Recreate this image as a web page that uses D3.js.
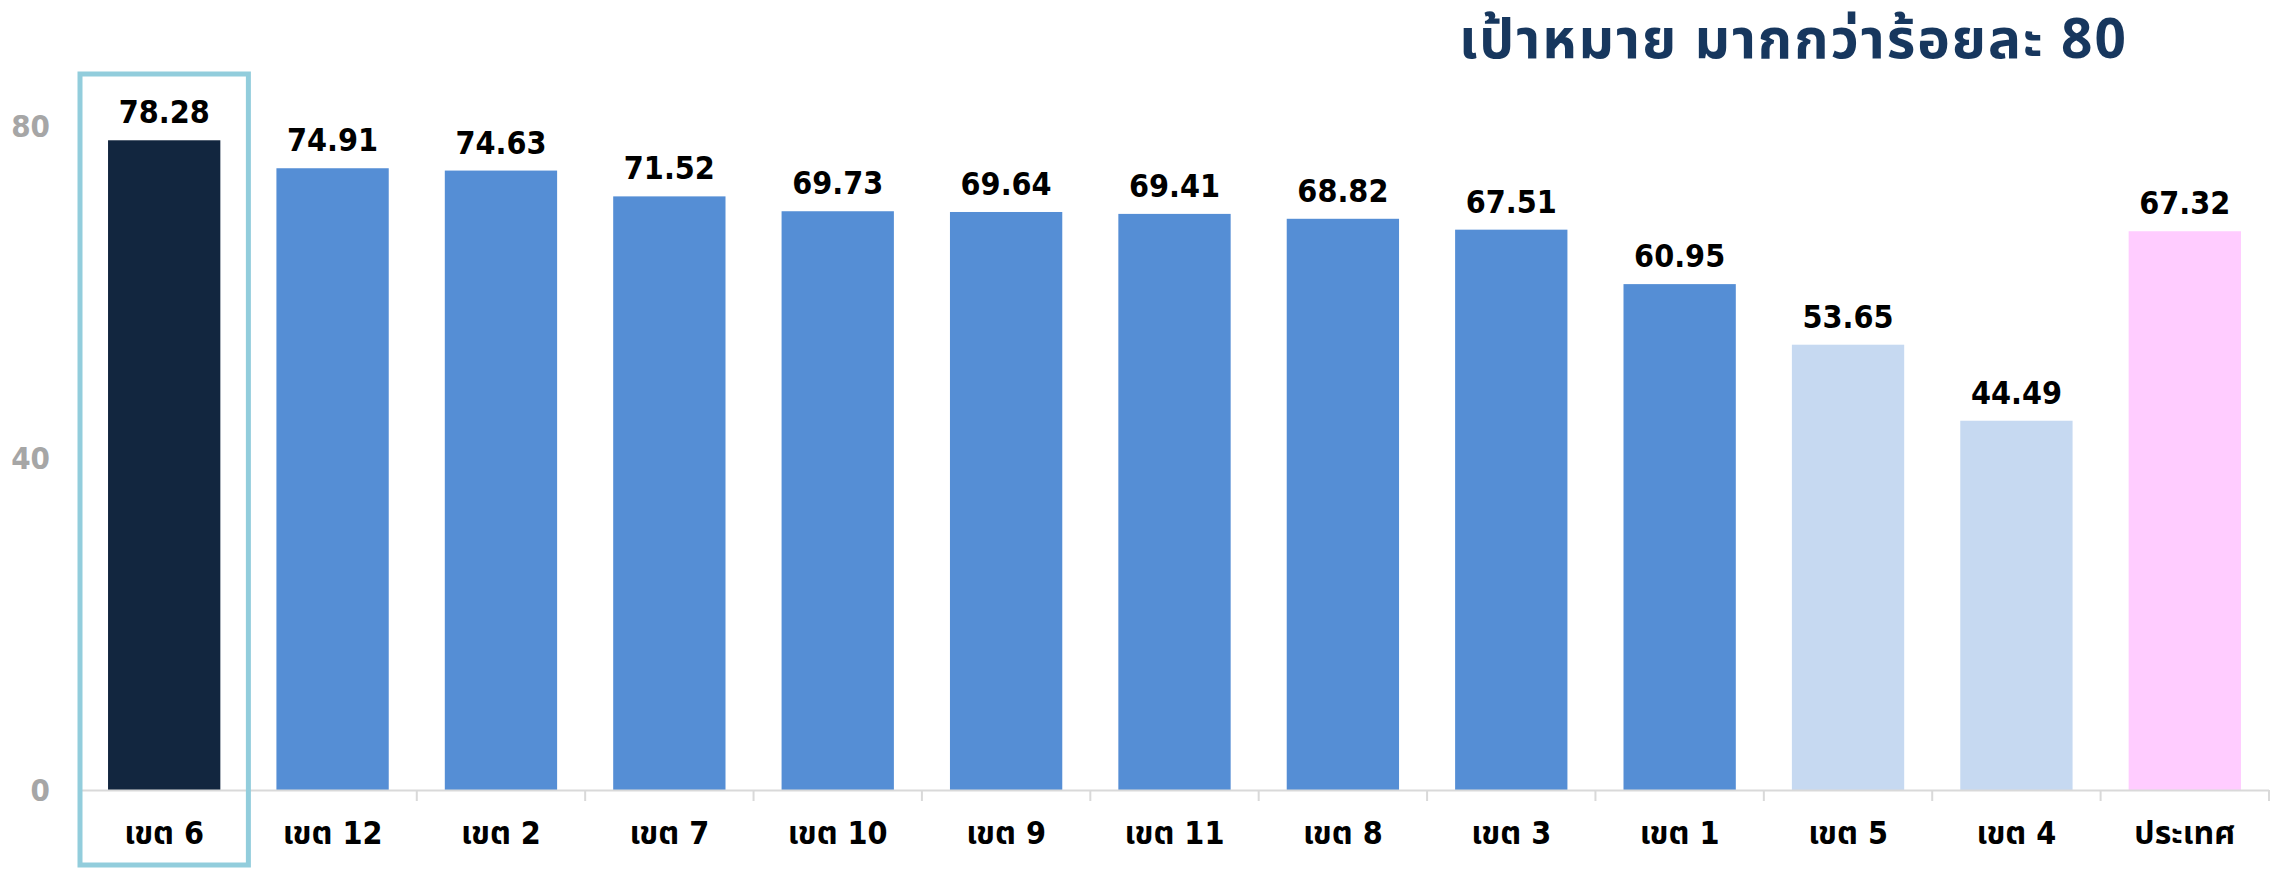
<!DOCTYPE html>
<html>
<head>
<meta charset="utf-8">
<script src="https://cdn.jsdelivr.net/npm/d3@7"></script>
<style>
  body { margin: 0; background: #fff; }
  text { font-family: "DejaVu Sans Condensed", "DejaVu Sans", "Noto Sans Thai", sans-serif; font-weight: bold; font-stretch: condensed; }
  text.title { font-family: "Noto Sans Thai", "DejaVu Sans", sans-serif; font-stretch: normal; }
</style>
</head>
<body>
<svg id="chart" width="2277" height="869"></svg>
<script>
// data
var categories = ["เขต 6","เขต 12","เขต 2","เขต 7","เขต 10","เขต 9","เขต 11","เขต 8","เขต 3","เขต 1","เขต 5","เขต 4","ประเทศ"];
var values = [78.28,74.91,74.63,71.52,69.73,69.64,69.41,68.82,67.51,60.95,53.65,44.49,67.32];
var groups = ["top","mid","mid","mid","mid","mid","mid","mid","mid","mid","low","low","country"];
var yTicks = [0,40,80];
var title = "เป้าหมาย มากกว่าร้อยละ 80";
var highlight = "เขต 6";

var colors = {top:"#12263f", mid:"#558ed5", low:"#c6d9f1", country:"#ffccff"};

var svg = d3.select("#chart");
var x = d3.scaleBand().domain(categories).range([80,2269]).paddingInner(0.333).paddingOuter(0.1665);
var y = d3.scaleLinear().domain([0,80]).range([790,126]);

var data = categories.map(function(c,i){ return {cat:c, v:values[i], g:groups[i]}; });

// bars
svg.selectAll("rect.bar").data(data).enter().append("rect")
  .attr("class","bar")
  .attr("x", function(d){ return x(d.cat); })
  .attr("y", function(d){ return y(d.v); })
  .attr("width", x.bandwidth())
  .attr("height", function(d){ return y(0)-y(d.v); })
  .attr("fill", function(d){ return colors[d.g]; });

// value labels
svg.selectAll("text.val").data(data).enter().append("text")
  .attr("class","val")
  .attr("x", function(d){ return x(d.cat)+x.bandwidth()/2; })
  .attr("y", function(d){ return y(d.v)-17; })
  .attr("text-anchor","middle")
  .attr("font-size",32)
  .attr("fill","#000")
  .text(function(d){ return d.v.toFixed(2); });

// x axis: line + ticks between categories
var step = x.step();
var x0 = 80;
svg.append("line").attr("x1",x0).attr("x2",2269).attr("y1",790.5).attr("y2",790.5)
  .attr("stroke","#d9d9d9").attr("stroke-width",2);
d3.range(categories.length+1).forEach(function(i){
  var xx = x0 + i*step;
  svg.append("line").attr("x1",xx).attr("x2",xx).attr("y1",790).attr("y2",801)
    .attr("stroke","#d9d9d9").attr("stroke-width",2);
});
svg.selectAll("text.cat").data(categories).enter().append("text")
  .attr("class","cat")
  .attr("x", function(d){ return x(d)+x.bandwidth()/2; })
  .attr("y", 844)
  .attr("text-anchor","middle")
  .attr("font-size",32)
  .attr("fill","#000")
  .text(function(d){ return d; });

// y tick labels
svg.selectAll("text.yt").data(yTicks).enter().append("text")
  .attr("class","yt")
  .attr("x", 50)
  .attr("y", function(d){ return y(d); })
  .attr("dy","0.36em")
  .attr("text-anchor","end")
  .attr("font-size",31)
  .attr("fill","#a6a6a6")
  .text(function(d){ return d; });

// highlight box around first category
var hx = x(highlight) - x.step()*x.paddingInner()/2;
svg.append("rect").attr("x",hx).attr("y",74).attr("width",step).attr("height",791)
  .attr("fill","none").attr("stroke","#92cddc").attr("stroke-width",5);

// title
svg.append("text").attr("class","title").attr("x",1459).attr("y",58)
  .attr("font-size",55).attr("letter-spacing",2).attr("fill","#17375e")
  .text(title);
</script>
</body>
</html>
